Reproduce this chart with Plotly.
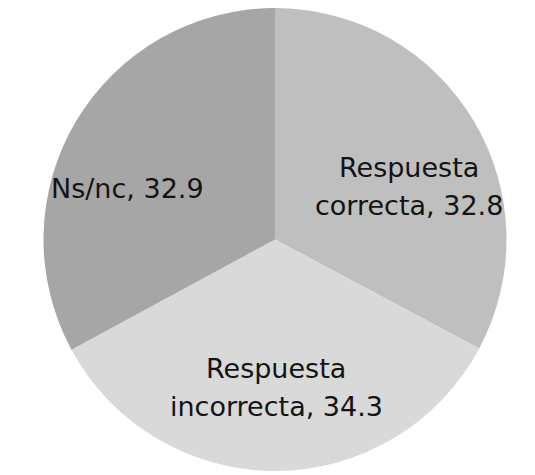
import plotly.graph_objects as go

# data
categories = ["Respuesta correcta", "Respuesta incorrecta", "Ns/nc"]
values = [32.8, 34.3, 32.9]
label_lines = [["Respuesta", "correcta"], ["Respuesta", "incorrecta"], ["Ns/nc"]]
colors = ["#bfbfbf", "#d9d9d9", "#a6a6a6"]

W, H = 535, 475
OFF = 8  # page body margin
# label centres on screen (x, y of first line), line spacing in px
label_pos = [(409, 167), (276, 368), (127, 189)]
line_gap = 38

fig = go.Figure()

fig.add_trace(go.Pie(
    labels=categories,
    values=values,
    sort=False,
    direction="clockwise",
    rotation=0,
    marker=dict(colors=colors, line=dict(width=0)),
    textinfo="none",
    hoverinfo="label+value",
    domain=dict(x=[0.0654, 0.9327], y=[0.0253, 1.0]),
    showlegend=False,
))

# slice labels, one annotation per line
for lines, val, (px, py) in zip(label_lines, values, label_pos):
    for k, line in enumerate(lines):
        txt = line
        if k == len(lines) - 1:
            txt = f"{line}, {val}"
        fig.add_annotation(
            x=(px - OFF) / W,
            y=1 - (py - OFF + k * line_gap) / H,
            xref="paper", yref="paper",
            xanchor="center", yanchor="middle",
            text=txt,
            showarrow=False,
            font=dict(family="DejaVu Sans", size=27, color="#141414"),
        )

fig.update_layout(
    width=W, height=H,
    margin=dict(l=0, r=0, t=0, b=0),
    paper_bgcolor="white",
    plot_bgcolor="white",
    showlegend=False,
)

fig.write_html("out.html")
